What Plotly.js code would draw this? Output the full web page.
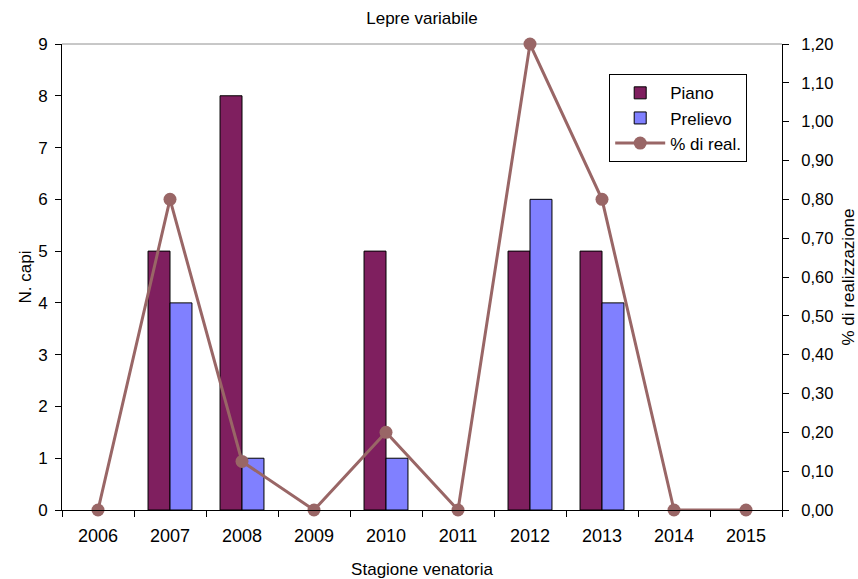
<!DOCTYPE html>
<html>
<head>
<meta charset="utf-8">
<script src="https://cdn.plot.ly/plotly-3.0.1.min.js"></script>
<style>
html,body{margin:0;padding:0;background:#fff;}
#chart{width:858px;height:579px;}
</style>
</head>
<body>
<div id="chart"></div>
<script>
var seasons = ["2006","2007","2008","2009","2010","2011","2012","2013","2014","2015"];
var piano = [null,5,8,null,5,null,5,5,null,null];
var prelievo = [null,4,1,null,1,null,6,4,null,null];
var realizzazione = [0,0.80,0.125,0,0.20,0,1.20,0.80,0,0];

var leftTicks = [0,1,2,3,4,5,6,7,8,9];

var FONT = "Liberation Sans, Arial, sans-serif";

var traces = [
  {type:"bar", name:"Piano", x:seasons, y:piano,
   marker:{color:"#7F1F5F", line:{color:"#000", width:1}}},
  {type:"bar", name:"Prelievo", x:seasons, y:prelievo,
   marker:{color:"#8080FF", line:{color:"#000", width:1}}},
  {type:"scatter", mode:"lines+markers", name:"% di real.", x:seasons, y:realizzazione,
   yaxis:"y2", cliponaxis:false,
   line:{color:"#996666", width:3}, marker:{color:"#996666", size:13}}
];

var layout = {
  width:858, height:579,
  paper_bgcolor:"#fff", plot_bgcolor:"#fff",
  separators:",.",
  margin:{l:62, r:76, t:44, b:69, pad:0},
  font:{family:FONT, color:"#000", size:16},
  title:{text:"Lepre variabile", font:{family:FONT, size:17, color:"#000"},
         x:0.5, xref:"paper", y:1-18/579, yref:"container", yanchor:"middle"},
  barmode:"group", bargap:0.39, bargroupgap:0,
  showlegend:true,
  legend:{x:0.76, y:0.935, xanchor:"left", yanchor:"top", bgcolor:"#fff",
          bordercolor:"#000", borderwidth:1, font:{family:FONT, size:17, color:"#000"},
          traceorder:"normal", tracegroupgap:2, itemwidth:50},
  xaxis:{type:"category", categoryorder:"array", categoryarray:seasons,
         range:[-0.5,9.5], tickson:"boundaries", ticks:"outside", ticklen:6,
         tickcolor:"#000", showline:true, linecolor:"#000", linewidth:1,
         showgrid:false, zeroline:false, ticklabelstandoff:9,
         tickfont:{family:FONT, size:18, color:"#000"},
         title:{text:"Stagione venatoria", font:{family:FONT, size:17, color:"#000"}, standoff:22}},
  xaxis2:{overlaying:"x", type:"linear", range:[-0.5,9.5], tick0:0.5, dtick:1,
          ticks:"inside", ticklen:6, tickcolor:"#000", showticklabels:false,
          showline:false, showgrid:false, zeroline:false, side:"bottom", anchor:"y"},
  yaxis:{range:[0,9], tickvals:leftTicks, ticks:"outside", ticklen:6, tickcolor:"#000",
         showline:true, linecolor:"#000", linewidth:1, showgrid:false, zeroline:false,
         ticklabelstandoff:4,
         tickfont:{family:FONT, size:17, color:"#000"},
         title:{text:"N. capi", font:{family:FONT, size:17, color:"#000"}, standoff:2}},
  yaxis3:{overlaying:"y", range:[0,9], tickvals:leftTicks, ticks:"inside", ticklen:6,
          tickcolor:"#000", showticklabels:false, showline:false, showgrid:false,
          zeroline:false, side:"left", anchor:"x"},
  yaxis2:{overlaying:"y", side:"right", range:[0,1.2], dtick:0.1, tick0:0, tickformat:".2f",
          ticks:"outside", ticklen:6, tickcolor:"#000", showline:true, linecolor:"#000",
          linewidth:1, showgrid:false, zeroline:false, ticklabelstandoff:9,
          tickfont:{family:FONT, size:16.5, color:"#000"},
          title:{text:"% di realizzazione", font:{family:FONT, size:17, color:"#000"}, standoff:11}},
  yaxis4:{overlaying:"y", side:"right", range:[0,1.2], dtick:0.1, tick0:0, ticks:"inside",
          ticklen:6, tickcolor:"#000", showticklabels:false, showline:false,
          showgrid:false, zeroline:false, anchor:"x"},
  shapes:[{type:"line", xref:"paper", yref:"paper", x0:0, x1:1, y0:1, y1:1,
           line:{color:"#909090", width:1}, layer:"below"}]
};

Plotly.newPlot("chart", traces, layout, {staticPlot:true, displayModeBar:false});
</script>
</body>
</html>
